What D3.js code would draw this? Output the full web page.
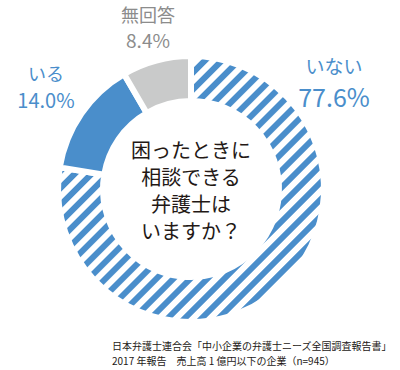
<!DOCTYPE html>
<html>
<head>
<meta charset="utf-8">
<script src="https://cdn.jsdelivr.net/npm/d3@7"></script>
<style>
  body { margin: 0; background: #fff; }
  text { font-family: "Noto Sans CJK JP", "Noto Sans", sans-serif; }
</style>
</head>
<body>
<div id="chart"></div>
<script>
// Data
const categories = ["いない", "いる", "無回答"];
const values = [77.6, 14.0, 8.4];
const valueLabels = ["77.6%", "14.0%", "8.4%"];
const questionLines = ["困ったときに", "相談できる", "弁護士は", "いますか？"];
const sourceLines = [
    "日本弁護士連合会「中小企業の弁護士ニーズ全国調査報告書」",
    "2017 年報告　売上高 1 億円以下の企業（n=945）"
];

const width = 400, height = 370;
const cx = 191, cy = 189;
const outerR = 133, innerR = 88;
const blue = "#4a8ecb", gray = "#c9caca";

const svg = d3.select("#chart")
    .append("svg")
    .attr("width", width)
    .attr("height", height);

// Diagonal stripe pattern for "いない"
const defs = svg.append("defs");
const pat = defs.append("pattern")
    .attr("id", "stripes")
    .attr("patternUnits", "userSpaceOnUse")
    .attr("width", 12)
    .attr("height", 12)
    .attr("patternTransform", "rotate(45)");
pat.append("rect")
    .attr("width", 12).attr("height", 12).attr("fill", "#fff");
pat.append("rect")
    .attr("width", 6).attr("height", 12).attr("fill", blue);

const fills = ["url(#stripes)", blue, gray];

const pie = d3.pie().sort(null).value(d => d);
const arc = d3.arc().innerRadius(innerR).outerRadius(outerR);

const g = svg.append("g").attr("transform", `translate(${cx}, ${cy})`);

g.selectAll("path")
    .data(pie(values))
    .enter()
    .append("path")
    .attr("d", arc)
    .attr("fill", (d, i) => fills[i])
    .attr("stroke", "#fff")
    .attr("stroke-width", 6);

// Segment labels: name on one line, percentage below
const labelSpec = [
    {x: 334, y: 74, size1: 19, size2: 25, gap: 33, color: blue},
    {x: 46, y: 81, size1: 18, size2: 20, gap: 27, color: blue},
    {x: 148, y: 22, size1: 18, size2: 19, gap: 26, color: "#8c8c8c"}
];
categories.forEach((c, i) => {
    const s = labelSpec[i];
    svg.append("text")
        .attr("x", s.x).attr("y", s.y)
        .attr("text-anchor", "middle")
        .attr("fill", s.color)
        .style("font-size", s.size1 + "px")
        .text(c);
    svg.append("text")
        .attr("x", s.x).attr("y", s.y + s.gap)
        .attr("text-anchor", "middle")
        .attr("fill", s.color)
        .style("font-size", s.size2 + "px")
        .text(valueLabels[i]);
});

// Center question
svg.append("g")
    .selectAll("text")
    .data(questionLines)
    .enter()
    .append("text")
    .attr("x", cx)
    .attr("y", (d, i) => 158 + i * 27)
    .attr("text-anchor", "middle")
    .attr("fill", "#231815")
    .style("font-size", "20px")
    .text(d => d);

// Source
svg.append("g")
    .selectAll("text")
    .data(sourceLines)
    .enter()
    .append("text")
    .attr("x", 112)
    .attr("y", (d, i) => 350 + i * 15)
    .attr("fill", "#231815")
    .style("font-size", "10px")
    .text(d => d);
</script>
</body>
</html>
